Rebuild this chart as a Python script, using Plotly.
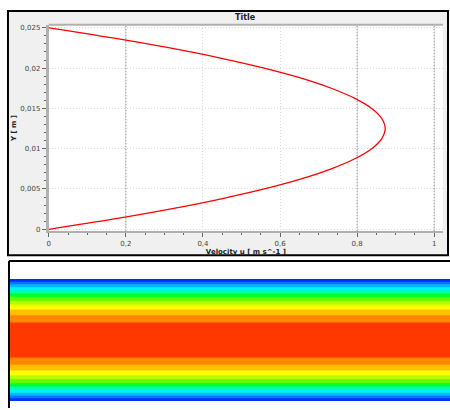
import plotly.graph_objects as go

# ---- data ----
y_pos = [0.0, 0.00125, 0.0025, 0.00375, 0.005, 0.00625, 0.0075, 0.00875, 0.01, 0.01125,
         0.0125, 0.01375, 0.015, 0.01625, 0.0175, 0.01875, 0.02, 0.02125, 0.0225, 0.02375, 0.025]
velocity = [0.0, 0.166, 0.314, 0.445, 0.559, 0.655, 0.733, 0.794, 0.838, 0.864,
            0.873, 0.864, 0.838, 0.794, 0.733, 0.655, 0.559, 0.445, 0.314, 0.166, 0.0]
x_ticks = [0, 0.2, 0.4, 0.6, 0.8, 1.0]
x_tick_text = ["0", "0,2", "0,4", "0,6", "0,8", "1"]
y_ticks = [0, 0.005, 0.01, 0.015, 0.02, 0.025]
y_tick_text = ["0", "0,005", "0,01", "0,015", "0,02", "0,025"]
dark_grid_x = [0.2, 0.8, 1.0]
band_colors = ["#0030ff", "#0078ff", "#00b8ff", "#00f0ff", "#00ffa0", "#00ff30",
               "#60ff00", "#b8ff00", "#ffff00", "#ffc000", "#ff8800", "#ff3800"]
contour_x = [0, 1]

W, H = 450, 410
def px(x): return x / W
def py(y): return (H - y) / H

fig = go.Figure()

# velocity profile
fig.add_trace(go.Scatter(x=velocity, y=y_pos, mode="lines",
                         line=dict(color="#ff0000", width=1.3, shape="spline"),
                         hoverinfo="skip", showlegend=False,
                         xaxis="x", yaxis="y"))

# contour of velocity across the channel
umax = max(velocity)
step = umax / 12
n = len(band_colors)
cscale = [[i / (n - 1), c] for i, c in enumerate(band_colors)]
fig.add_trace(go.Contour(x=contour_x, y=y_pos, z=[[u for _ in contour_x] for u in velocity],
                         colorscale=cscale, showscale=False,
                         autocontour=False,
                         contours=dict(start=step, end=11 * step, size=step, coloring="fill",
                                       showlines=False),
                         line=dict(width=0),
                         hoverinfo="skip", xaxis="x2", yaxis="y2"))

shapes = []
# top panel frame
shapes.append(dict(type="rect", xref="paper", yref="paper",
                   x0=px(6), x1=px(448), y0=py(256), y1=py(10),
                   fillcolor="#f0f0f0", line=dict(color="#000000", width=2), layer="below"))
# white plot area
shapes.append(dict(type="rect", xref="paper", yref="paper",
                   x0=px(47), x1=px(443), y0=py(232), y1=py(24),
                   fillcolor="#ffffff", line=dict(width=0), layer="below"))
# bottom panel frame lines
shapes.append(dict(type="line", xref="paper", yref="paper",
                   x0=px(7), x1=px(450), y0=py(262), y1=py(262),
                   line=dict(color="#000000", width=2)))
shapes.append(dict(type="line", xref="paper", yref="paper",
                   x0=px(7), x1=px(7), y0=py(262), y1=py(410),
                   line=dict(color="#000000", width=2)))
# darker dotted grid lines
for gx in dark_grid_x:
    shapes.append(dict(type="line", xref="x", yref="paper", x0=gx, x1=gx,
                       y0=py(232), y1=py(24),
                       line=dict(color="#606060", width=1, dash="1px,2px")))
# top border line of the plot area (grey)
shapes.append(dict(type="line", xref="paper", yref="paper", x0=px(47), x1=px(443),
                   y0=py(24), y1=py(24), line=dict(color="#b0b0b0", width=2)))

fig.update_layout(
    width=W, height=H,
    margin=dict(l=0, r=0, t=0, b=0),
    paper_bgcolor="#ffffff",
    plot_bgcolor="#ffffff",
    font=dict(family="DejaVu Sans", size=7, color="#333333"),
    shapes=shapes,
    showlegend=False,
    xaxis=dict(domain=[px(47), px(443)], anchor="y", range=[0, 1.023],
               tickvals=x_ticks, ticktext=x_tick_text,
               ticks="outside", ticklen=4, tickcolor="#666666",
               minor=dict(dtick=0.05, ticks="outside", ticklen=2, tickcolor="#666666",
                          showgrid=False),
               showgrid=True, gridcolor="#d8d8d8", griddash="1px,2px", gridwidth=1,
               showline=True, linecolor="#b0b0b0", linewidth=2, zeroline=False,
               tickfont=dict(size=7, color="#444444"),
               title=dict(text="<b>Velocity u [ m s^-1 ]</b>", font=dict(size=7, color="#222222"),
                          standoff=2)),
    yaxis=dict(domain=[py(232), py(24)], anchor="x", range=[-0.00025, 0.02537],
               tickvals=y_ticks, ticktext=y_tick_text,
               ticks="outside", ticklen=4, tickcolor="#666666",
               minor=dict(dtick=0.001, ticks="outside", ticklen=2, tickcolor="#666666",
                          showgrid=False),
               showgrid=True, gridcolor="#d8d8d8", griddash="1px,2px", gridwidth=1,
               showline=True, linecolor="#b0b0b0", linewidth=3, zeroline=False,
               mirror=False,
               tickfont=dict(size=7, color="#444444"),
               title=dict(text="<b>Y [ m ]</b>", font=dict(size=7, color="#222222"),
                          standoff=3)),
    xaxis2=dict(domain=[px(8), 1.0], anchor="y2", range=[0, 1], visible=False),
    yaxis2=dict(domain=[py(403), py(280)], anchor="x2", range=[0, 0.025], visible=False),
    annotations=[dict(text="<b>Title</b>", xref="paper", yref="paper",
                      x=px(245), y=py(17), showarrow=False,
                      font=dict(size=8, color="#222222"), xanchor="center", yanchor="middle")],
)

fig.write_html("out.html",
               config={"displayModeBar": False},
               post_script="document.body.style.margin='0';document.body.style.overflow='hidden';")
